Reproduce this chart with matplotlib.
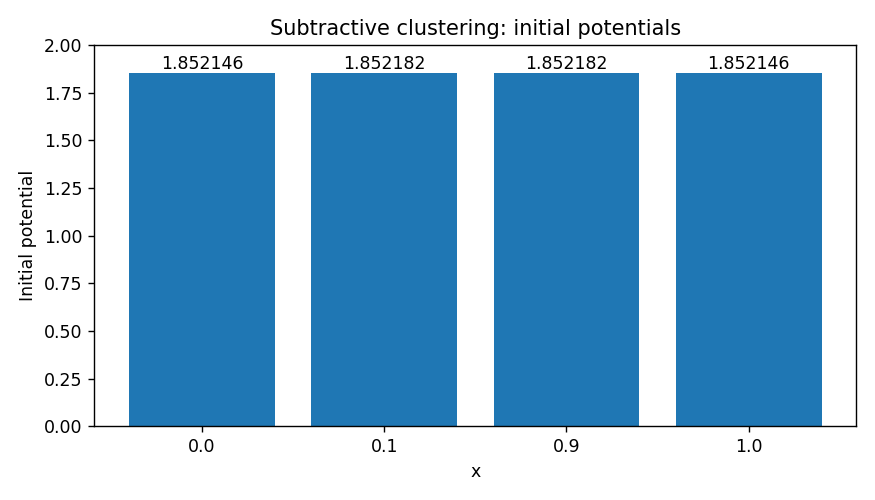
import matplotlib
matplotlib.use("Agg")
import matplotlib.pyplot as plt

categories = ["0.0", "0.1", "0.9", "1.0"]
potentials = [1.852146, 1.852182, 1.852182, 1.852146]

fig, ax = plt.subplots(figsize=(7, 4), dpi=125)
bars = ax.bar(categories, potentials, color="#1f77b4")
ax.bar_label(bars, labels=[f"{v:.6f}" for v in potentials])
ax.set_ylim(0, 2.0)
ax.set_title("Subtractive clustering: initial potentials")
ax.set_xlabel("x")
ax.set_ylabel("Initial potential")
fig.tight_layout()
fig.savefig("out.png", dpi=125)
